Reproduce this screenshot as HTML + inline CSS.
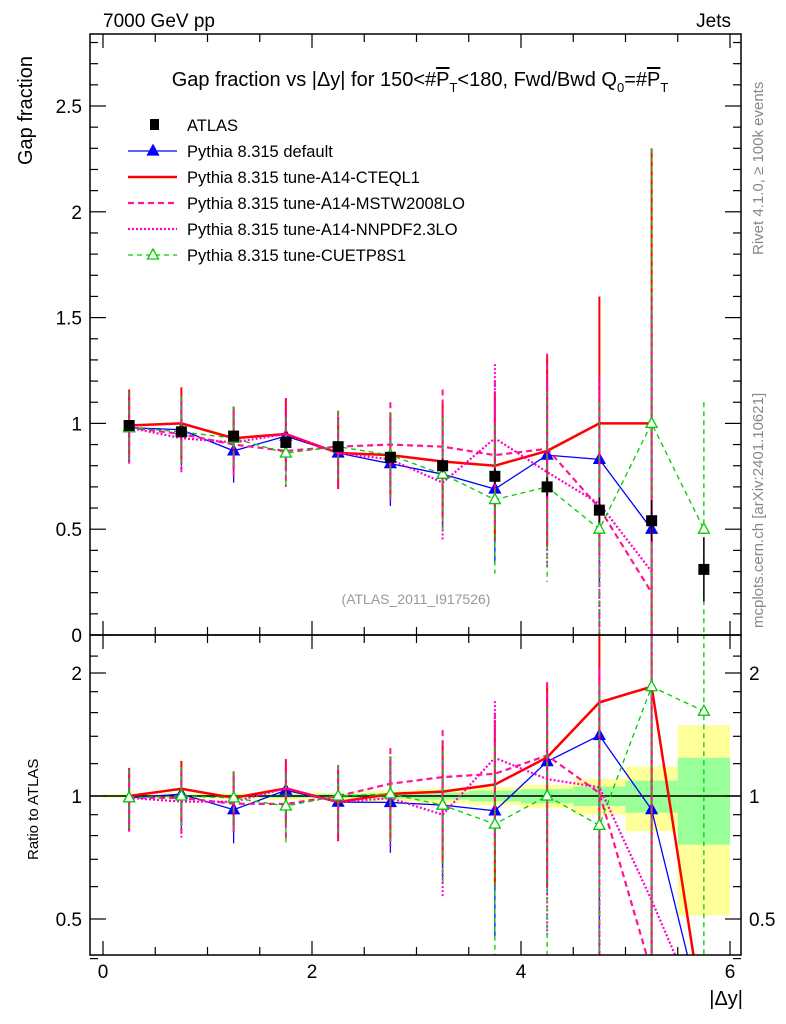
<!DOCTYPE html>
<html><head><meta charset="utf-8"><style>
html,body{margin:0;padding:0;background:#fff;overflow:hidden;width:786px;height:1024px;}
svg{display:block;}
svg text{font-family:"Liberation Sans",sans-serif;}
</style></head><body>
<svg id="c" width="786" height="1024" xmlns="http://www.w3.org/2000/svg">
<defs>
<clipPath id="cm"><rect x="90" y="34" width="651" height="601"/></clipPath>
<clipPath id="cr"><rect x="90" y="635" width="651" height="320"/></clipPath>
</defs>
<g id="bands" clip-path="url(#cr)"></g>
<g id="mainMarks" clip-path="url(#cm)"></g>
<g id="ratioMarks" clip-path="url(#cr)"></g>
<g id="axes"></g>
<text x="103" y="27" font-size="19">7000 GeV pp</text>
<text x="731" y="27" font-size="19" text-anchor="end">Jets</text>
<text x="420" y="86" font-size="20" text-anchor="middle">Gap fraction vs |Δy| for 150&lt;#<tspan text-decoration="overline">P</tspan><tspan font-size="13" dy="6">T</tspan><tspan dy="-6">&lt;180, Fwd/Bwd Q</tspan><tspan font-size="13" dy="6">0</tspan><tspan dy="-6">=#</tspan><tspan text-decoration="overline">P</tspan><tspan font-size="13" dy="6">T</tspan></text>
<text transform="translate(32,165) rotate(-90)" font-size="20" text-anchor="start">Gap fraction</text>
<text transform="translate(38,860) rotate(-90)" font-size="15">Ratio to ATLAS</text>
<text x="743" y="1005" font-size="20" text-anchor="end">|Δy|</text>
<text transform="translate(763,255) rotate(-90)" font-size="15" fill="#888">Rivet 4.1.0, ≥ 100k events</text>
<text transform="translate(763,628) rotate(-90)" font-size="15" fill="#888">mcplots.cern.ch [arXiv:2401.10621]</text>
<text x="416" y="604" font-size="14" fill="#999" text-anchor="middle">(ATLAS_2011_I917526)</text>
<g id="legend"></g>
</svg>
<script>
const xCenters=[0.25,0.75,1.25,1.75,2.25,2.75,3.25,3.75,4.25,4.75,5.25,5.75];
const atlas=[0.99,0.96,0.94,0.91,0.89,0.84,0.80,0.75,0.70,0.59,0.54,0.31];
const atlasStatRel=[0.005,0.007,0.008,0.01,0.012,0.015,0.02,0.03,0.04,0.055,0.09,0.24];
const atlasTotRel=[0.01,0.015,0.015,0.02,0.02,0.03,0.04,0.05,0.065,0.10,0.18,0.49];
const pyDefault=[0.98,0.97,0.87,0.94,0.86,0.81,0.76,0.69,0.85,0.83,0.50,0.0];
const pyCTEQ=[0.99,1.0,0.93,0.95,0.86,0.85,0.82,0.80,0.87,1.0,1.0,0.0];
const pyMSTW=[0.98,0.95,0.90,0.87,0.89,0.90,0.89,0.85,0.88,0.60,0.20,0.0];
const pyNNPDF=[0.98,0.93,0.91,0.95,0.86,0.83,0.72,0.93,0.77,0.62,0.30,0.0];
const pyCUETP=[0.98,0.96,0.93,0.86,0.89,0.85,0.76,0.64,0.70,0.50,1.0,0.50];
const mcErr=[0.17,0.17,0.15,0.17,0.17,0.2,0.27,0.35,0.45,0.6,1.3,0.6];
const mainTicks=[0,0.5,1,1.5,2,2.5];
const mainTickLabels=["0","0.5","1","1.5","2","2.5"];
const ratioTicks=[0.5,1,2];
const ratioTickLabels=["0.5","1","2"];
const xTicks=[0,2,4,6];
const xTickLabels=["0","2","4","6"];

const NS="http://www.w3.org/2000/svg";
const X=v=>103+v*104.5;
const Ym=v=>635-v*211.6;
const Yr=r=>796-Math.log2(Math.max(r,0.28))*123;
function el(parent,tag,attrs){const e=document.createElementNS(NS,tag);for(const k in attrs)e.setAttribute(k,attrs[k]);parent.appendChild(e);return e;}
const gM=document.getElementById('mainMarks'),gR=document.getElementById('ratioMarks'),gB=document.getElementById('bands'),gA=document.getElementById('axes'),gL=document.getElementById('legend');

xCenters.forEach((x,i)=>{
  let r=el(gB,'rect',{x:X(x-0.25),y:Yr(1+atlasTotRel[i]),width:104.5/2,height:Yr(1-atlasTotRel[i])-Yr(1+atlasTotRel[i]),fill:'#ffff99'});
  
  
  let g=el(gB,'rect',{x:X(x-0.25),y:Yr(1+atlasStatRel[i]),width:104.5/2,height:Yr(1-atlasStatRel[i])-Yr(1+atlasStatRel[i]),fill:'#99ff99'});
  
  
});
let one=el(gB,'line',{x1:90,x2:741,y1:Yr(1),y2:Yr(1),stroke:'#000','stroke-width':1.5});



const series=[
 {name:'pythia-default',vals:pyDefault,color:'#0000ff',w:1.3,dash:'',marker:'tri',fill:'#0000ff'},
 {name:'pythia-a14-cteql1',vals:pyCTEQ,color:'#ff0000',w:2.5,dash:'',marker:null},
 {name:'pythia-a14-mstw2008lo',vals:pyMSTW,color:'#ff1493',w:2.2,dash:'6,4',marker:null},
 {name:'pythia-a14-nnpdf23lo',vals:pyNNPDF,color:'#ff00cc',w:2.2,dash:'2,2',marker:null},
 {name:'pythia-cuetp8s1',vals:pyCUETP,color:'#00cc00',w:1.3,dash:'5,4',marker:'tri',fill:'#fff'}
];
function tri(g,cx,cy,s){let t=el(g,'path',{d:`M${cx},${cy-6}L${cx+5.5},${cy+4}L${cx-5.5},${cy+4}Z`,fill:s.fill,stroke:s.color,'stroke-width':1.3});}
series.forEach(s=>{
  const idx=xCenters.map((x,i)=>i).filter(i=>s.vals[i]>0);
  let pts=idx.map(i=>X(xCenters[i])+','+Ym(s.vals[i])).join(' ');
  idx.forEach(i=>{
    let e=el(gM,'line',{x1:X(xCenters[i]),x2:X(xCenters[i]),y1:Ym(s.vals[i]+mcErr[i]),y2:Ym(s.vals[i]-mcErr[i]),stroke:s.color,'stroke-width':Math.min(s.w,2),'stroke-dasharray':s.dash});
    
    
  });
  let l=el(gM,'polyline',{points:pts,fill:'none',stroke:s.color,'stroke-width':s.w,'stroke-dasharray':s.dash});
  
  
  if(s.marker) idx.forEach(i=>tri(gM,X(xCenters[i]),Ym(s.vals[i]),s));
  let rp=xCenters.map((x,i)=>X(x)+','+Yr(s.vals[i]/atlas[i])).join(' ');
  idx.forEach(i=>{
    let x=xCenters[i],r=s.vals[i]/atlas[i],er=mcErr[i]/atlas[i];
    let e=el(gR,'line',{x1:X(x),x2:X(x),y1:Yr(r+er),y2:Yr(r-er),stroke:s.color,'stroke-width':Math.min(s.w,2),'stroke-dasharray':s.dash});
    
    
  });
  let rl=el(gR,'polyline',{points:rp,fill:'none',stroke:s.color,'stroke-width':s.w,'stroke-dasharray':s.dash});
  
  
  if(s.marker) idx.forEach(i=>tri(gR,X(xCenters[i]),Yr(s.vals[i]/atlas[i]),s));
});
xCenters.forEach((x,i)=>{
  let e=el(gM,'line',{x1:X(x),x2:X(x),y1:Ym(atlas[i]*(1+atlasTotRel[i])),y2:Ym(atlas[i]*(1-atlasTotRel[i])),stroke:'#000','stroke-width':1.5});
  
  
  let m=el(gM,'rect',{x:X(x)-5.5,y:Ym(atlas[i])-5.5,width:11,height:11,fill:'#000'});
  
  
});

[[34,635],[635,955]].forEach(([t,b],k)=>{
  let f=el(gA,'rect',{x:90,y:t,width:651,height:b-t,fill:'none',stroke:'#000','stroke-width':1.5});
  
  
});
for(let v=0;v<=6.01;v+=0.5){
  const major=Math.abs(v-Math.round(v/2)*2)<1e-6, len=major?14:8;
  [[635,-1],[955,-1],[34,1],[635,1]].forEach(([y,d])=>el(gA,'line',{x1:X(v),x2:X(v),y1:y,y2:y+d*len,stroke:'#000','stroke-width':1.2}));
}
xTicks.forEach((v,i)=>{let t=el(gA,'text',{x:X(v),y:978,'font-size':19,'text-anchor':'middle'});t.textContent=xTickLabels[i];});
for(let v=0;v<=2.85;v+=0.1){
  const major=Math.abs(v*2-Math.round(v*2))<1e-6,len=major?16:8;
  el(gA,'line',{x1:90,x2:90+len,y1:Ym(v),y2:Ym(v),stroke:'#000','stroke-width':1.2});
  el(gA,'line',{x1:741,x2:741-len,y1:Ym(v),y2:Ym(v),stroke:'#000','stroke-width':1.2});
}
mainTicks.forEach((v,i)=>{let t=el(gA,'text',{x:82,y:Ym(v)+7,'font-size':19,'text-anchor':'end'});t.textContent=mainTickLabels[i];});
const rMinor=[0.4,0.5,0.6,0.7,0.8,0.9,1,1.2,1.4,1.6,1.8,2,2.2];
rMinor.forEach(v=>{const major=ratioTicks.includes(v),len=major?16:8;
  el(gA,'line',{x1:90,x2:90+len,y1:Yr(v),y2:Yr(v),stroke:'#000','stroke-width':1.2});
  el(gA,'line',{x1:741,x2:741-len,y1:Yr(v),y2:Yr(v),stroke:'#000','stroke-width':1.2});});
ratioTicks.forEach((v,i)=>{
  let t=el(gA,'text',{x:82,y:Yr(v)+7,'font-size':19,'text-anchor':'end'});t.textContent=ratioTickLabels[i];
  let t2=el(gA,'text',{x:749,y:Yr(v)+7,'font-size':19});t2.textContent=ratioTickLabels[i];
});
const legendLabels=["ATLAS","Pythia 8.315 default","Pythia 8.315 tune-A14-CTEQL1","Pythia 8.315 tune-A14-MSTW2008LO","Pythia 8.315 tune-A14-NNPDF2.3LO","Pythia 8.315 tune-CUETP8S1"];
legendLabels.forEach((lab,i)=>{
  const y=124+i*26;
  const g=el(gL,'g',{});
  
  
  if(i==0){el(g,'rect',{x:150,y:y-5,width:9,height:11,fill:'#000'});}
  else{const s=series[i-1];el(g,'line',{x1:128,x2:177,y1:y+1,y2:y+1,stroke:s.color,'stroke-width':s.w,'stroke-dasharray':s.dash});if(s.marker)tri(g,153,y+1,s);}
  const t=el(g,'text',{x:187,y:y+7,'font-size':16.5});t.textContent=lab;
});
</script>
</body></html>
